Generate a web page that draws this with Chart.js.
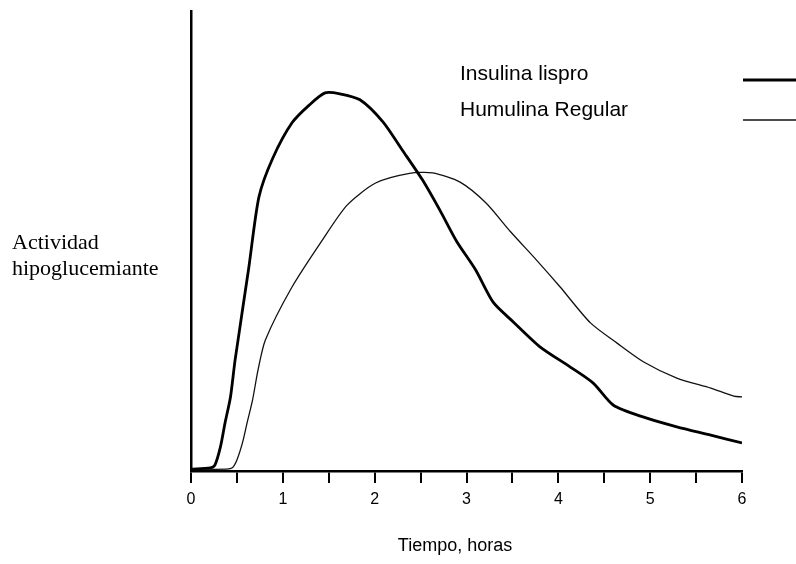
<!DOCTYPE html>
<html>
<head>
<meta charset="utf-8">
<script src="https://cdn.jsdelivr.net/npm/chart.js@4/dist/chart.umd.min.js"></script>
<style>
  html, body { margin: 0; background: #fff; }
</style>
</head>
<body>
<canvas id="actividad" width="796" height="564"></canvas>
<script>
// Tiempo (horas) y actividad hipoglucemiante (0-100, escala relativa)
const lisproTime = [0, 0.21, 0.26, 0.32, 0.37, 0.43, 0.48, 0.63, 0.74, 0.89, 1.10, 1.29, 1.46, 1.62, 1.84, 2.09, 2.30, 2.52, 2.71, 2.89, 3.10, 3.29, 3.51, 3.80, 4.13, 4.38, 4.60, 4.93, 5.29, 5.66, 6.0];
const lisproActivity = [0.4, 0.7, 1.3, 5.2, 10.4, 16.1, 24.1, 44.3, 59.6, 68.0, 75.7, 79.6, 82.2, 82.0, 80.7, 75.9, 69.8, 63.3, 56.7, 50.0, 43.7, 36.7, 32.4, 27.0, 22.6, 19.1, 14.3, 11.7, 9.6, 7.8, 6.1];

const regularTime = [0, 0.39, 0.45, 0.50, 0.56, 0.61, 0.67, 0.73, 0.81, 1.10, 1.43, 1.70, 2.01, 2.38, 2.63, 2.93, 3.21, 3.48, 3.76, 4.02, 4.35, 4.64, 4.93, 5.29, 5.66, 5.91, 6.0];
const regularActivity = [0.4, 0.4, 0.7, 2.4, 6.1, 10.4, 15.4, 22.0, 28.5, 40.0, 50.2, 57.8, 62.6, 64.7, 64.8, 62.8, 58.3, 52.0, 45.9, 40.0, 32.2, 27.8, 23.7, 20.2, 18.0, 16.3, 16.1];

const seriesNames = ['Insulina lispro', 'Humulina Regular'];
const xTitle = 'Tiempo, horas';
const yTitle = ['Actividad', 'hipoglucemiante'];

const toPoints = (xs, ys) => xs.map((x, i) => ({ x: x, y: ys[i] }));

// Draws axis titles and the legend at the positions used in the original figure
const figureText = {
  id: 'figureText',
  afterDraw(chart) {
    const ctx = chart.ctx;
    ctx.save();
    ctx.fillStyle = '#000';
    ctx.textBaseline = 'alphabetic';

    ctx.font = '22px "Liberation Serif"';
    ctx.textAlign = 'left';
    ctx.fillText(yTitle[0], 12, 249);
    ctx.fillText(yTitle[1], 12, 275);

    ctx.font = '18px "Liberation Sans"';
    ctx.textAlign = 'center';
    ctx.fillText(xTitle, 455, 551);

    // Legend: label on the left, line sample at the right edge
    ctx.font = '21px "Liberation Sans"';
    ctx.textAlign = 'left';
    const rows = [{ text: 80, line: 80 }, { text: 116, line: 120 }];
    chart.data.datasets.forEach((ds, i) => {
      ctx.fillText(ds.label, 460, rows[i].text);
      ctx.strokeStyle = ds.borderColor;
      ctx.lineWidth = ds.borderWidth;
      ctx.beginPath();
      ctx.moveTo(743, rows[i].line);
      ctx.lineTo(796, rows[i].line);
      ctx.stroke();
    });
    ctx.restore();
  }
};

new Chart(document.getElementById('actividad'), {
  type: 'line',
  data: {
    datasets: [
      {
        label: seriesNames[0],
        data: toPoints(lisproTime, lisproActivity),
        borderColor: '#000',
        borderWidth: 2.8,
        pointRadius: 0,
        tension: 0.25
      },
      {
        label: seriesNames[1],
        data: toPoints(regularTime, regularActivity),
        borderColor: '#111',
        borderWidth: 1.3,
        pointRadius: 0,
        tension: 0.25
      }
    ]
  },
  options: {
    responsive: false,
    animation: false,
    layout: { padding: { left: 191, right: 54, top: 11, bottom: 0 } },
    plugins: {
      legend: { display: false },
      tooltip: { enabled: false }
    },
    scales: {
      x: {
        type: 'linear',
        min: 0,
        max: 6,
        afterFit: (scale) => { scale.height = 93; },
        border: { display: true, color: '#000', width: 2.5 },
        grid: {
          display: true,
          drawOnChartArea: false,
          drawTicks: true,
          tickLength: 12,
          color: '#000',
          lineWidth: 2
        },
        ticks: {
          stepSize: 0.5,
          padding: 7,
          color: '#000',
          font: { family: '"Liberation Sans"', size: 16 },
          maxRotation: 0,
          autoSkip: false,
          callback: (v) => Number.isInteger(v) ? String(v) : ''
        }
      },
      y: {
        min: 0,
        max: 100,
        afterFit: (scale) => { scale.width = 0; },
        border: { display: true, color: '#000', width: 2.5 },
        grid: { display: false },
        ticks: { display: false }
      }
    }
  },
  plugins: [figureText]
});
</script>
</body>
</html>
